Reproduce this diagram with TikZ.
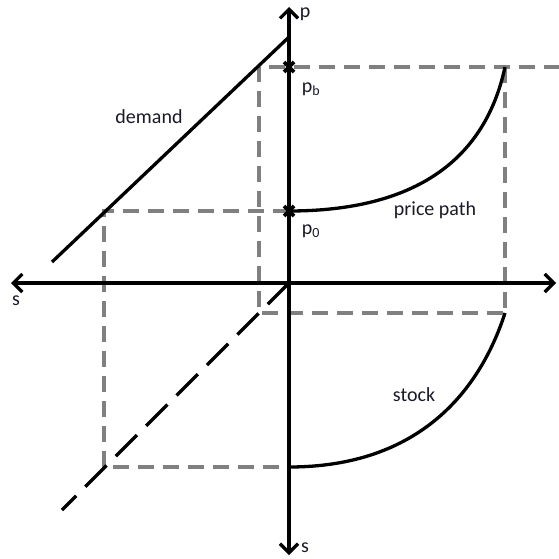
\documentclass[tikz,border=0pt]{standalone}
\usepackage{fontspec}
\setmainfont{Carlito}
\usetikzlibrary{arrows.meta,calc}
\definecolor{guidegray}{RGB}{128,128,128}
\definecolor{txt}{RGB}{25,25,40}
\begin{document}
\begin{tikzpicture}[x=1pt,y=-1pt,
  axis/.style={line width=3.4pt,{Straight Barb[length=9pt,width=18pt,line width=3.2pt]}-{Straight Barb[length=9pt,width=18pt,line width=3.2pt]}},
  guide/.style={draw=guidegray,line width=3.4pt,dash pattern=on 16pt off 9pt},
  curveline/.style={line width=3.3pt},
  lbl/.style={font=\fontsize{20}{22}\selectfont,text=txt,inner sep=0pt},
  xmark/.style={line width=3.6pt}]
\useasboundingbox (0,0) rectangle (558,559);
% coordinates
\coordinate (top) at (289,7);
\coordinate (bot) at (289,555);
\coordinate (left) at (11,283);
\coordinate (right) at (556,283);
\coordinate (O) at (289,283);
\coordinate (pb) at (289,67);
\coordinate (p0) at (289,211);
\coordinate (dA) at (52,262);
\coordinate (dB) at (289,37);
\coordinate (dC) at (104,211);
\coordinate (sA) at (104,467);
\coordinate (sB) at (289,467);
\coordinate (bL) at (259,67);
\coordinate (bR) at (505,67);
\coordinate (bEdge) at (560,67);
\coordinate (bLL) at (259,313);
\coordinate (bRL) at (505,313);
\coordinate (dashEnd) at (62,510);
% grey guides
\draw[guide] (p0) -- (dC) -- (sA) -- (sB);
\draw[guide] (bEdge) -- (bL) -- (bLL) -- (bRL);
\draw[guide] (bR) -- (bRL);
% axes
\draw[axis] (bot) -- (top);
\draw[axis] (left) -- (right);
% demand
\draw[curveline] (dA) -- (dB);
\draw[curveline,dash pattern=on 30pt off 13pt] (O) -- (dashEnd);
% curves
\draw[curveline] (p0) .. controls (415,211) and (485,160) .. (bR);
\draw[curveline] (sB) .. controls (420,467) and (480,390) .. (bRL);
% x marks
\foreach \c in {pb,p0}{
  \draw[xmark] ($(\c)+(-5,-5)$) -- ($(\c)+(5,5)$);
  \draw[xmark] ($(\c)+(-5,5)$) -- ($(\c)+(5,-5)$);
}
% labels
\node[lbl] (lp) at (305,14) {p};
\node[lbl] (lpb) at (311,89) {p\textsubscript{b}};
\node[lbl] (lp0) at (311,231) {p\textsubscript{0}};
\node[lbl] (ldemand) at (149,117) {demand};
\node[lbl] (lprice) at (435,210) {price path};
\node[lbl] (lstock) at (414,395) {stock};
\node[lbl] (ls1) at (16,301) {s};
\node[lbl] (ls2) at (305,548) {s};
\end{tikzpicture}
\end{document}
